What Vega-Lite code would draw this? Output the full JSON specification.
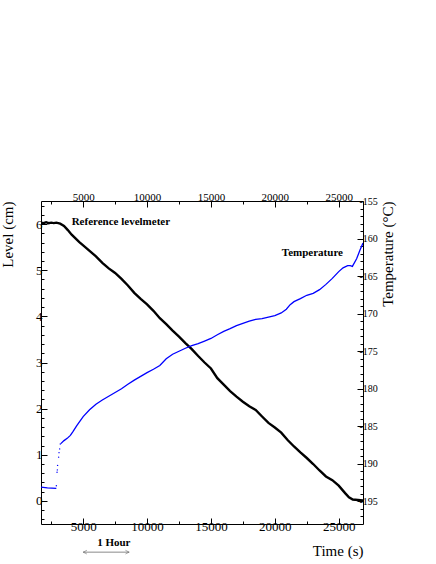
{
  "$schema": "https://vega.github.io/schema/vega-lite/v6.json",
  "width": 322,
  "height": 323,
  "autosize": {"type": "none"},
  "padding": {"left": 41, "top": 201, "right": 73, "bottom": 40},
  "background": "white",
  "config": {
    "view": {"stroke": null},
    "font": "Liberation Serif",
    "text": {"font": "Liberation Serif"},
    "axis": {
      "grid": false,
      "domainColor": "black",
      "domainWidth": 1,
      "tickColor": "black",
      "tickWidth": 1,
      "labelColor": "black",
      "titleColor": "black",
      "labelFont": "Liberation Serif",
      "titleFont": "Liberation Serif",
      "titleFontWeight": "normal",
      "labelOverlap": false,
      "labelFlush": false
    }
  },
  "datasets": {
    "level": [
      {"t": 1700, "level": 6.03}, {"t": 1900, "level": 6.02}, {"t": 2100, "level": 6.04}, {"t": 2300, "level": 6.02},
      {"t": 2500, "level": 6.03}, {"t": 2700, "level": 6.02}, {"t": 2900, "level": 6.03}, {"t": 3200, "level": 6.01},
      {"t": 3500, "level": 5.96}, {"t": 3800, "level": 5.87}, {"t": 4100, "level": 5.77}, {"t": 4400, "level": 5.69},
      {"t": 4700, "level": 5.61}, {"t": 5000, "level": 5.54}, {"t": 5500, "level": 5.42}, {"t": 6000, "level": 5.30},
      {"t": 6500, "level": 5.16}, {"t": 7000, "level": 5.04}, {"t": 7500, "level": 4.94}, {"t": 8000, "level": 4.81},
      {"t": 8500, "level": 4.67}, {"t": 9000, "level": 4.51}, {"t": 9500, "level": 4.38}, {"t": 10000, "level": 4.26},
      {"t": 10500, "level": 4.12}, {"t": 11000, "level": 3.96}, {"t": 11500, "level": 3.83}, {"t": 12000, "level": 3.69},
      {"t": 12500, "level": 3.56}, {"t": 13000, "level": 3.42}, {"t": 13500, "level": 3.29}, {"t": 14000, "level": 3.14},
      {"t": 14500, "level": 3.00}, {"t": 15000, "level": 2.87}, {"t": 15500, "level": 2.66}, {"t": 16000, "level": 2.52},
      {"t": 16500, "level": 2.38}, {"t": 17000, "level": 2.26}, {"t": 17500, "level": 2.15}, {"t": 18000, "level": 2.05},
      {"t": 18500, "level": 1.97}, {"t": 19000, "level": 1.83}, {"t": 19500, "level": 1.69}, {"t": 20000, "level": 1.59},
      {"t": 20500, "level": 1.48}, {"t": 21000, "level": 1.32}, {"t": 21500, "level": 1.18}, {"t": 22000, "level": 1.05},
      {"t": 22500, "level": 0.93}, {"t": 23000, "level": 0.80}, {"t": 23500, "level": 0.66}, {"t": 24000, "level": 0.53},
      {"t": 24500, "level": 0.45}, {"t": 25000, "level": 0.33}, {"t": 25500, "level": 0.17}, {"t": 25800, "level": 0.08},
      {"t": 26100, "level": 0.03}, {"t": 26500, "level": 0.02}, {"t": 26900, "level": 0.01}
    ],
    "temp": [
      {"t": 1700, "temp": -193.1, "seg": "a"}, {"t": 2200, "temp": -193.2, "seg": "a"}, {"t": 2900, "temp": -193.25, "seg": "a"},
      {"t": 3250, "temp": -187.3, "seg": "b"}, {"t": 3500, "temp": -186.9, "seg": "b"}, {"t": 3750, "temp": -186.6, "seg": "b"},
      {"t": 4000, "temp": -186.2, "seg": "b"}, {"t": 4200, "temp": -185.7, "seg": "b"}, {"t": 4500, "temp": -184.9, "seg": "b"},
      {"t": 5000, "temp": -183.7, "seg": "b"}, {"t": 5500, "temp": -182.8, "seg": "b"}, {"t": 6000, "temp": -182.05, "seg": "b"},
      {"t": 6500, "temp": -181.5, "seg": "b"}, {"t": 7000, "temp": -181.0, "seg": "b"}, {"t": 7500, "temp": -180.5, "seg": "b"},
      {"t": 8000, "temp": -180.0, "seg": "b"}, {"t": 8500, "temp": -179.4, "seg": "b"}, {"t": 9000, "temp": -178.85, "seg": "b"},
      {"t": 9500, "temp": -178.35, "seg": "b"}, {"t": 10000, "temp": -177.85, "seg": "b"}, {"t": 10500, "temp": -177.4, "seg": "b"},
      {"t": 11000, "temp": -176.9, "seg": "b"}, {"t": 11500, "temp": -176.0, "seg": "b"}, {"t": 12000, "temp": -175.4, "seg": "b"},
      {"t": 12500, "temp": -175.0, "seg": "b"}, {"t": 13000, "temp": -174.6, "seg": "b"}, {"t": 13500, "temp": -174.25, "seg": "b"},
      {"t": 14000, "temp": -174.0, "seg": "b"}, {"t": 14500, "temp": -173.65, "seg": "b"}, {"t": 15000, "temp": -173.3, "seg": "b"},
      {"t": 15500, "temp": -172.8, "seg": "b"}, {"t": 16000, "temp": -172.35, "seg": "b"}, {"t": 16500, "temp": -172.0, "seg": "b"},
      {"t": 17000, "temp": -171.6, "seg": "b"}, {"t": 17500, "temp": -171.3, "seg": "b"}, {"t": 18000, "temp": -171.0, "seg": "b"},
      {"t": 18500, "temp": -170.75, "seg": "b"}, {"t": 19000, "temp": -170.65, "seg": "b"}, {"t": 19500, "temp": -170.45, "seg": "b"},
      {"t": 20000, "temp": -170.25, "seg": "b"}, {"t": 20500, "temp": -169.9, "seg": "b"}, {"t": 20900, "temp": -169.4, "seg": "b"},
      {"t": 21200, "temp": -168.8, "seg": "b"}, {"t": 21500, "temp": -168.4, "seg": "b"}, {"t": 22000, "temp": -168.0, "seg": "b"},
      {"t": 22500, "temp": -167.55, "seg": "b"}, {"t": 23000, "temp": -167.3, "seg": "b"}, {"t": 23500, "temp": -166.8, "seg": "b"},
      {"t": 24000, "temp": -166.1, "seg": "b"}, {"t": 24500, "temp": -165.3, "seg": "b"}, {"t": 25000, "temp": -164.4, "seg": "b"},
      {"t": 25340, "temp": -163.9, "seg": "b"}, {"t": 25700, "temp": -163.6, "seg": "b"}, {"t": 25900, "temp": -163.6, "seg": "b"},
      {"t": 26070, "temp": -163.7, "seg": "b"}, {"t": 26400, "temp": -162.7, "seg": "b"}, {"t": 26650, "temp": -161.6, "seg": "b"},
      {"t": 26900, "temp": -160.6, "seg": "b"}
    ],
    "jump": [
      {"t": 2900, "temp": -192.9}, {"t": 2955, "temp": -191.1}, {"t": 2980, "temp": -190.8}, {"t": 3000, "temp": -190.2},
      {"t": 3080, "temp": -189.1}, {"t": 3110, "temp": -188.5}, {"t": 3160, "temp": -188.0}, {"t": 3210, "temp": -187.35}
    ],
    "arrowheads": [
      {"t": 5000, "level": -1.11, "dir": "l"},
      {"t": 8600, "level": -1.11, "dir": "r"}
    ]
  },
  "layer": [
    {
      "data": {"name": "level"},
      "mark": {"type": "line", "color": "black", "strokeWidth": 2.4, "clip": true},
      "encoding": {
        "x": {
          "field": "t", "type": "quantitative",
          "scale": {"domain": [1700, 26900], "nice": false, "zero": false},
          "axis": {
            "orient": "bottom",
            "title": "Time (s)",
            "titleFontSize": 15,
            "titleAnchor": "end",
            "titlePadding": 10,
            "values": [5000, 10000, 15000, 20000, 25000],
            "format": "d",
            "labelFontSize": 13,
            "labelPadding": 2,
            "tickSize": -6
          }
        },
        "y": {
          "field": "level", "type": "quantitative",
          "scale": {"domain": [-0.5, 6.5], "nice": false, "zero": false},
          "axis": {
            "orient": "left",
            "title": "Level (cm)",
            "titleFontSize": 15,
            "titleAnchor": "end",
            "titlePadding": 20,
            "values": [0, 1, 2, 3, 4, 5, 6],
            "format": "d",
            "labelFontSize": 13,
            "labelPadding": 5,
            "tickSize": -6
          }
        }
      }
    },
    {
      "data": {"values": [{"t": 4100, "level": 6.05, "label": "Reference levelmeter"}]},
      "mark": {"type": "text", "font": "Liberation Serif", "fontWeight": "bold", "fontSize": 11, "align": "left", "baseline": "middle", "color": "black"},
      "encoding": {
        "x": {
          "field": "t", "type": "quantitative",
          "axis": {
            "orient": "bottom", "title": null, "labels": false, "domain": false,
            "values": [2500, 7500, 12500, 17500, 22500],
            "tickSize": -3
          }
        },
        "y": {
          "field": "level", "type": "quantitative",
          "scale": {"domain": [-0.5, 6.5], "nice": false, "zero": false},
          "axis": {
            "orient": "left", "title": null, "labels": false, "domain": false,
            "values": [-0.4, -0.2, 0.2, 0.4, 0.6, 0.8, 1.2, 1.4, 1.6, 1.8, 2.2, 2.4, 2.6, 2.8, 3.2, 3.4, 3.6, 3.8, 4.2, 4.4, 4.6, 4.8, 5.2, 5.4, 5.6, 5.8, 6.2, 6.4],
            "tickSize": -3
          }
        },
        "text": {"field": "label"}
      }
    },
    {
      "data": {"values": [{"t": 7400, "level": -0.91, "label": "1 Hour"}]},
      "mark": {"type": "text", "font": "Liberation Serif", "fontWeight": "bold", "fontSize": 11, "align": "center", "baseline": "middle", "color": "black", "clip": false},
      "encoding": {
        "x": {"field": "t", "type": "quantitative", "axis": null},
        "y": {"field": "level", "type": "quantitative", "scale": {"domain": [-0.5, 6.5], "nice": false, "zero": false}, "axis": null},
        "text": {"field": "label"}
      }
    },
    {
      "data": {"values": [{"t": 5000, "t2": 8600, "level": -1.11}]},
      "mark": {"type": "rule", "color": "#555555", "strokeWidth": 0.7, "clip": false},
      "encoding": {
        "x": {"field": "t", "type": "quantitative", "axis": null},
        "x2": {"field": "t2"},
        "y": {"field": "level", "type": "quantitative", "scale": {"domain": [-0.5, 6.5], "nice": false, "zero": false}, "axis": null}
      }
    },
    {
      "data": {"name": "arrowheads"},
      "mark": {"type": "point", "filled": false, "strokeWidth": 0.7, "color": "#555555", "size": 14, "clip": false},
      "encoding": {
        "x": {"field": "t", "type": "quantitative", "axis": null},
        "y": {"field": "level", "type": "quantitative", "scale": {"domain": [-0.5, 6.5], "nice": false, "zero": false}, "axis": null},
        "shape": {"field": "dir", "type": "nominal", "scale": {"domain": ["l", "r"], "range": ["M2,-1L0,0L2,1", "M-2,-1L0,0L-2,1"]}, "legend": null}
      }
    },
    {
      "data": {"name": "temp"},
      "mark": {"type": "line", "color": "#0000ff", "strokeWidth": 1.3, "clip": true},
      "encoding": {
        "x": {
          "field": "t", "type": "quantitative",
          "axis": {
            "orient": "top",
            "title": null,
            "values": [5000, 10000, 15000, 20000, 25000],
            "format": "d",
            "labelFontSize": 11,
            "labelPadding": 5,
            "tickSize": -6
          }
        },
        "y": {
          "field": "temp", "type": "quantitative",
          "scale": {"domain": [-198, -155], "nice": false, "zero": false},
          "axis": {
            "orient": "right",
            "title": "Temperature (°C)",
            "titleFontSize": 15,
            "titleAnchor": "end",
            "titleAngle": 270,
            "titleBaseline": "top",
            "titlePadding": 3,
            "values": [-195, -190, -185, -180, -175, -170, -165, -160, -155],
            "labelExpr": "'-' + abs(datum.value)",
            "labelFontSize": 10,
            "labelPadding": 2,
            "tickSize": -6
          }
        },
        "detail": {"field": "seg"}
      }
    },
    {
      "data": {"name": "jump"},
      "mark": {"type": "point", "filled": true, "size": 2, "color": "#0000ff", "opacity": 1},
      "encoding": {
        "x": {"field": "t", "type": "quantitative", "axis": null},
        "y": {"field": "temp", "type": "quantitative", "scale": {"domain": [-198, -155], "nice": false, "zero": false}, "axis": null}
      }
    },
    {
      "data": {"values": [{"t": 20550, "temp": -161.9, "label": "Temperature"}]},
      "mark": {"type": "text", "font": "Liberation Serif", "fontWeight": "bold", "fontSize": 11, "align": "left", "baseline": "middle", "color": "black"},
      "encoding": {
        "x": {
          "field": "t", "type": "quantitative",
          "axis": {
            "orient": "top", "title": null, "labels": false, "domain": false,
            "values": [2500, 7500, 12500, 17500, 22500],
            "tickSize": -3
          }
        },
        "y": {
          "field": "temp", "type": "quantitative",
          "scale": {"domain": [-198, -155], "nice": false, "zero": false},
          "axis": {
            "orient": "right", "title": null, "labels": false, "domain": false,
            "values": [-197, -196, -194, -193, -192, -191, -189, -188, -187, -186, -184, -183, -182, -181, -179, -178, -177, -176, -174, -173, -172, -171, -169, -168, -167, -166, -164, -163, -162, -161, -159, -158, -157, -156],
            "tickSize": -3
          }
        },
        "text": {"field": "label"}
      }
    }
  ],
  "resolve": {"scale": {"y": "independent"}, "axis": {"x": "independent", "y": "independent"}}
}
